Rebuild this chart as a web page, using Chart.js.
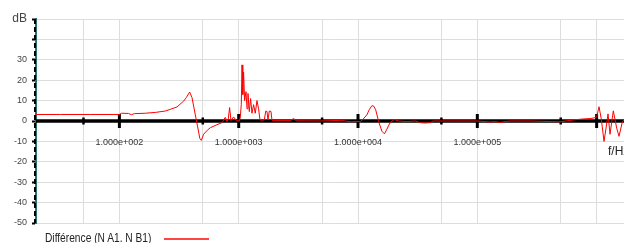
<!DOCTYPE html>
<html>
<head>
<meta charset="utf-8">
<script src="https://cdn.jsdelivr.net/npm/chart.js@4.4.0/dist/chart.umd.min.js"></script>
<style>
  html, body { margin: 0; padding: 0; background: #fff; overflow: hidden; }
  #wrap { position: relative; width: 624px; height: 243px; }
  #legend-text {
    position: absolute; left: 45px; top: 231px; line-height: 14px; white-space: nowrap;
    font: 12px "Liberation Sans Narrow", "Arial Narrow", "Liberation Sans", Arial, sans-serif; color: #222;
    transform: scaleX(0.85); transform-origin: left center;
  }
  #legend-swatch { position: absolute; left: 164px; top: 238px; width: 45px; height: 1.5px; background: #f44; }
</style>
</head>
<body>
<div id="wrap">
  <canvas id="chart" width="624" height="243"></canvas>
  <div id="legend-text"></div>
  <div id="legend-swatch"></div>
</div>
<script>
const FONT = '"Liberation Sans Narrow", "Arial Narrow", "Liberation Sans", Arial, sans-serif';

// Data
const seriesLabel = 'Différence (N A1. N B1)';
const freqHz = [
  20, 32, 57, 100, 104, 119, 126, 134, 165, 200, 243, 267, 304, 346, 364, 388, 406, 433, 450, 472,
  486, 508, 546, 578, 658, 725, 772, 798, 818, 839, 862, 906, 955, 1012, 1031, 1051, 1066, 1082, 1099, 1121,
  1151, 1174, 1196, 1227, 1258, 1292, 1333, 1377, 1423, 1468, 1508, 1546, 1638, 1686, 1726, 1760, 1804, 1864, 1901, 2026,
  2704, 2884, 3037, 4822, 7096, 8890, 9660, 10430, 11060, 11870, 12410, 13080, 13540, 14070, 14850, 15850, 16670, 17460, 18610, 20220,
  21840, 25680, 30130, 33190, 36560, 40250, 42660, 59160, 99600, 127900, 140900, 155200, 171000, 188300, 276700, 493800, 634000, 769000, 880700, 951000,
  1002000, 1047000, 1094000, 1153000, 1199000, 1246000, 1295000, 1380000, 1473000, 1540000, 1642000, 1696000
];
const diffDb = [
  3.2, 3.2, 3.2, 3.2, 3.8, 3.7, 3.1, 3.6, 3.8, 4.2, 4.9, 5.7, 6.9, 9.8, 11.5, 14.2, 11.5, 3, -2, -8.5,
  -9.5, -6.5, -4.5, -3.3, -1.8, -0.8, 1.8, -0.3, 1, 6.6, 0.2, 2, 0.2, 0, 2, 8, 27.5, 13, 24, 10,
  14.4, 6, 13.5, 4.6, 11, 3.8, 8, 3.8, 10, 6, 0.5, 0.4, 0.5, 4.9, 4.7, 0.5, 4.9, 4.7, 0.4, 0.2,
  0.2, 1.2, 0.1, 0, 0.3, -0.4, -0.2, -0.4, 1, 3, 5.5, 7.5, 7.3, 5.5, 0, -5, -6.3, -4, -0.7, 0.7,
  0, -0.3, 0, -0.8, -1, -0.8, 0, 0, 0, -0.5, -0.3, -0.7, -0.3, 0, 0, -0.4, 0.5, 1, 1.2, 1.5,
  2, 7, 1, -10, -3.5, 3.5, -6.5, 5, -3.5, -7.5, -0.5, 0.5
];
const xTickValues = [50, 100, 500, 1000, 5000, 10000, 50000, 100000, 500000, 1000000];
const xLabelValues = [100, 1000, 10000, 100000];
const xMajorValues = [100, 1000, 10000, 100000, 1000000];
const yTickLabels = { 50: 'dB', 40: '' };
const xAxisTitle = 'f/Hz';

function sci(v) {
  const e = Math.round(Math.log10(v));
  const m = v / Math.pow(10, e);
  return m.toFixed(3) + 'e' + (e < 0 ? '-' : '+') + String(Math.abs(e)).padStart(3, '0');
}

const axisMarks = {
  id: 'axisMarks',
  beforeDatasetsDraw(chart) {
    const { ctx, chartArea, scales: { x, y } } = chart;
    const y0 = y.getPixelForValue(0);
    ctx.save();
    ctx.strokeStyle = '#000';
    ctx.lineWidth = 3.5;
    ctx.beginPath();
    ctx.moveTo(chartArea.left, y0);
    ctx.lineTo(chartArea.right, y0);
    ctx.stroke();
    xTickValues.forEach(v => {
      const px = x.getPixelForValue(v);
      const major = xMajorValues.includes(v);
      const h = major ? 7 : 3.5;
      ctx.lineWidth = major ? 3 : 2.5;
      ctx.beginPath();
      ctx.moveTo(px, y0 - h);
      ctx.lineTo(px, y0 + h);
      ctx.stroke();
    });
    // dashed black over the teal y axis
    ctx.lineWidth = 2;
    ctx.setLineDash([5, 3]);
    ctx.beginPath();
    ctx.moveTo(chartArea.left - 1, chartArea.top);
    ctx.lineTo(chartArea.left - 1, chartArea.bottom);
    ctx.stroke();
    ctx.restore();
  },
  afterDraw(chart) {
    const { ctx, chartArea, scales: { y } } = chart;
    ctx.save();
    ctx.font = '12px ' + FONT;
    ctx.fillStyle = '#222';
    ctx.textAlign = 'left';
    ctx.textBaseline = 'alphabetic';
    ctx.fillText(xAxisTitle, chartArea.right - 16, y.getPixelForValue(0) + 34);
    ctx.restore();
  }
};

new Chart(document.getElementById('chart'), {
  type: 'line',
  data: {
    datasets: [{
      label: seriesLabel,
      data: freqHz.map((f, i) => ({ x: f, y: diffDb[i] })),
      borderColor: '#ff0000',
      borderWidth: 1,
      pointRadius: 0,
      tension: 0,
      fill: false
    }]
  },
  options: {
    responsive: false,
    animation: false,
    layout: { padding: { top: 19, right: 0, bottom: 20, left: 0 } },
    plugins: { legend: { display: false }, tooltip: { enabled: false } },
    scales: {
      x: {
        type: 'logarithmic',
        position: { y: 0 },
        min: 20,
        max: 1696000,
        afterBuildTicks: s => { s.ticks = xTickValues.map(v => ({ value: v })); },
        grid: { color: '#dddddd', lineWidth: 1, drawTicks: false },
        border: { display: false },
        ticks: {
          autoSkip: false, maxRotation: 0, minRotation: 0, padding: 16,
          color: '#333', font: { family: FONT, size: 9 },
          callback: v => xLabelValues.includes(v) ? sci(v) : ''
        }
      },
      y: {
        min: -50,
        max: 50,
        afterFit: s => { s.width = 36; },
        grid: { color: '#dddddd', lineWidth: 1, tickLength: 4, tickColor: '#000', tickWidth: 2 },
        border: { color: '#2a6e6e', width: 2 },
        ticks: {
          stepSize: 10, padding: 5, color: '#444',
          font: c => ({ family: FONT, size: c.tick && c.tick.value === 50 ? 12 : 9 }),
          callback: v => (v in yTickLabels) ? yTickLabels[v] : String(v)
        }
      }
    }
  },
  plugins: [axisMarks]
});

document.getElementById('legend-text').textContent = seriesLabel;
</script>
</body>
</html>
